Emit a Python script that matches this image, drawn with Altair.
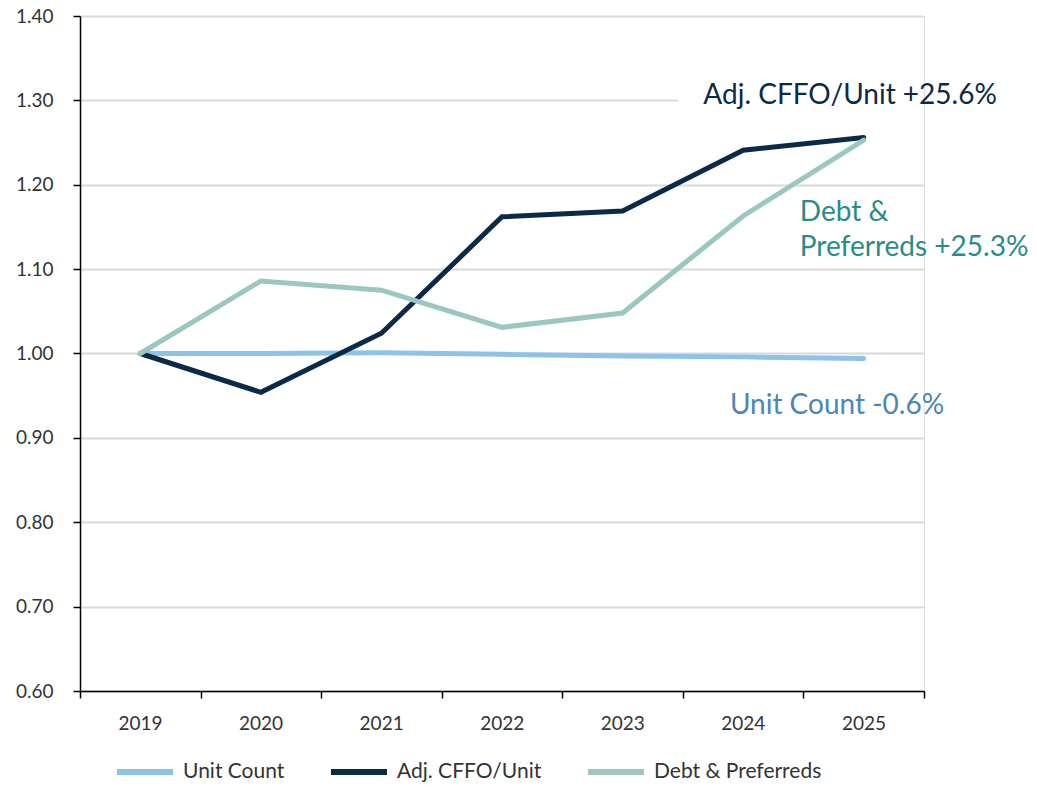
import altair as alt
import pandas as pd

years = ["2019", "2020", "2021", "2022", "2023", "2024", "2025"]
series_names = ["Unit Count", "Adj. CFFO/Unit", "Debt & Preferreds"]
unit_count = [1.000, 1.000, 1.001, 0.999, 0.997, 0.996, 0.994]
adj_cffo = [1.000, 0.954, 1.024, 1.162, 1.169, 1.241, 1.256]
debt_pref = [1.000, 1.086, 1.075, 1.031, 1.048, 1.163, 1.253]
series_colors = ["#8DC3E6", "#0B2A47", "#9CC6C1"]

ann_text = ["Adj. CFFO/Unit +25.6%", "Debt &\nPreferreds +25.3%", "Unit Count -0.6%"]
ann_x = [5.17, 5.97, 5.39]
ann_y = [1.305, 1.166, 0.938]
ann_color = ["#0B2A47", "#2A8C87", "#4A86B8"]

rows = []
for name, vals in zip(series_names, [unit_count, adj_cffo, debt_pref]):
    for i, (yr, v) in enumerate(zip(years, vals)):
        rows.append({"series": name, "year": yr, "pos": i + 0.5, "value": v})
df = pd.DataFrame(rows)

ann = pd.DataFrame({"text": ann_text, "x": ann_x, "y": ann_y, "color": ann_color})
# white box behind the top annotation (hides the gridline there)
mask = pd.DataFrame({"x": [4.96], "x2": [7.0], "y": [1.29], "y2": [1.318]})

FONT = "Lato"
label_expr = "datum.value < 7 ? '' + (2019 + datum.value) : ''"

x_enc = alt.X(
    "pos:Q",
    scale=alt.Scale(domain=[0, 7], nice=False, zero=False),
    axis=alt.Axis(
        values=[0, 1, 2, 3, 4, 5, 6, 7],
        labelExpr=label_expr,
        labelOffset=60,
        labelFlush=False,
        grid=False,
        title=None,
        domainColor="#000000",
        domainWidth=1.5,
        tickColor="#000000",
        tickWidth=1.5,
        tickSize=7,
        labelPadding=16,
        labelFontSize=19,
        labelColor="#333333",
        labelFont=FONT,
    ),
)
y_enc = alt.Y(
    "value:Q",
    scale=alt.Scale(domain=[0.6, 1.4], nice=False, zero=False),
    axis=alt.Axis(
        values=[0.6, 0.7, 0.8, 0.9, 1.0, 1.1, 1.2, 1.3, 1.4],
        format=".2f",
        grid=True,
        gridColor="#D9D9D9",
        gridWidth=2,
        title=None,
        domainColor="#000000",
        domainWidth=1.5,
        tickColor="#000000",
        tickWidth=1.5,
        tickSize=7,
        labelPadding=20,
        labelFontSize=19,
        labelColor="#333333",
        labelFont=FONT,
        labelFlush=False,
    ),
)

mask_layer = alt.Chart(mask).mark_rect(color="#FFFFFF").encode(
    x=alt.X("x:Q"), x2="x2:Q", y=alt.Y("y:Q"), y2="y2:Q"
)

lines = alt.Chart(df).mark_line(strokeWidth=5, strokeCap="round", strokeJoin="miter").encode(
    x=x_enc,
    y=y_enc,
    color=alt.Color(
        "series:N",
        scale=alt.Scale(domain=series_names, range=series_colors),
        sort=series_names,
        legend=alt.Legend(
            title=None,
            orient="none",
            direction="horizontal",
            legendX=34,
            legendY=725,
            symbolType="stroke",
            symbolSize=3136,
            symbolStrokeWidth=6,
            labelFontSize=21,
            labelFont=FONT,
            labelColor="#333333",
            labelOffset=7,
            labelLimit=400,
            columnPadding=34,
        ),
    ),
    order=alt.Order("pos:Q"),
)

labels = alt.Chart(ann).mark_text(
    align="left", baseline="middle", fontSize=28, font=FONT, lineBreak="\n", lineHeight=35
).encode(
    x=alt.X("x:Q"),
    y=alt.Y("y:Q"),
    text="text:N",
    color=alt.Color("color:N", scale=None),
)

chart = alt.layer(lines, mask_layer, labels).properties(
    width=844,
    height=675,
    autosize=alt.AutoSizeParams(type="none"),
    padding={"left": 72, "top": 8, "right": 104, "bottom": 92},
).configure_view(stroke=None).configure(background="#FFFFFF")

chart.save("out.html", embed_options={"renderer": "svg", "actions": False})
